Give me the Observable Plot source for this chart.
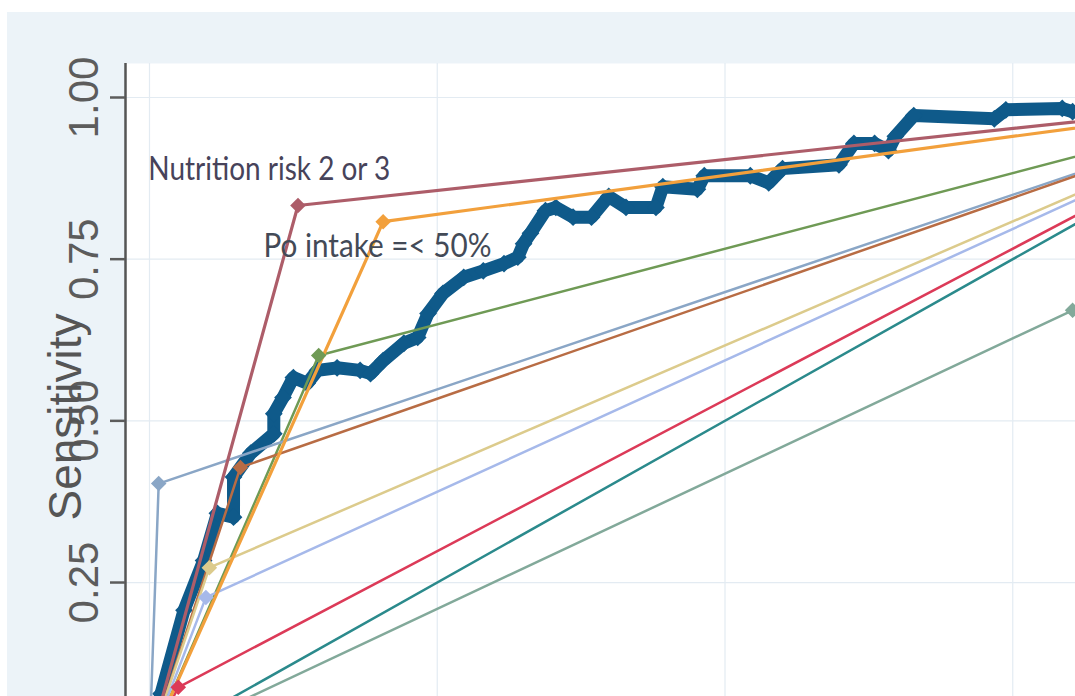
<!DOCTYPE html>
<html>
<head>
<meta charset="utf-8">
<script src="https://cdn.jsdelivr.net/npm/d3@7"></script>
<script src="https://cdn.jsdelivr.net/npm/@observablehq/plot@0.6"></script>
<style>
  html, body { margin: 0; padding: 0; background: #ffffff; overflow: hidden; }
</style>
</head>
<body>
<div id="chart"></div>
<script>
// ---- Data ----
// Binary tests: operating point (1 - specificity, sensitivity)
const testNames = ["Nutrition risk 2 or 3", "Po intake =< 50%", "Test 3", "Test 4", "Test 5", "Test 6", "Test 7", "Test 8", "Test 9", "Test 10"];
const testFPR  = [0.129, 0.203, 0.147, 0.008, 0.079, 0.052, 0.049, 0.025, 0.040, 0.802];
const testSens = [0.833, 0.808, 0.601, 0.403, 0.428, 0.273, 0.227, 0.088, 0.040, 0.671];

// Continuous score: empirical ROC curve
const rocFPR  = [0, 0.010, 0.030, 0.047, 0.059, 0.073, 0.073, 0.088, 0.108, 0.108, 0.116, 0.125, 0.137, 0.146, 0.163, 0.183, 0.192, 0.203, 0.221, 0.233, 0.242, 0.255, 0.273, 0.290, 0.308, 0.320, 0.325, 0.331, 0.344, 0.353, 0.368, 0.384, 0.399, 0.414, 0.440, 0.446, 0.476, 0.482, 0.522, 0.538, 0.550, 0.599, 0.612, 0.630, 0.642, 0.648, 0.664, 0.734, 0.744, 0.793, 0.802, 0.850, 1];
const rocSens = [0, 0.078, 0.207, 0.284, 0.357, 0.351, 0.413, 0.450, 0.480, 0.511, 0.536, 0.567, 0.558, 0.578, 0.582, 0.578, 0.573, 0.593, 0.620, 0.629, 0.666, 0.697, 0.722, 0.732, 0.743, 0.753, 0.774, 0.790, 0.825, 0.830, 0.815, 0.815, 0.847, 0.830, 0.830, 0.862, 0.858, 0.879, 0.879, 0.868, 0.890, 0.896, 0.929, 0.929, 0.918, 0.940, 0.972, 0.967, 0.981, 0.983, 0.978, 0.985, 1];

// Axis ticks (the 0 tick lies below the visible crop)
const yTicks = [0.25, 0.5, 0.75, 1];
const xTicks = [0, 0.25, 0.5, 0.75, 1];

// Annotations (data coordinates)
const annoLabels = ["Nutrition risk 2 or 3", "Po intake =< 50%"];
const annoX = [-0.001, 0.099];
const annoY = [0.888, 0.769];

// ---- Styles ----
const testColors = ["#ad5d69", "#f2a03c", "#6f9a55", "#8aa6c6", "#b86c44", "#dccb8c", "#a6b9ea", "#dc3a58", "#2b8a8c", "#82a99a"];
const rocColor = "#0f5a8a";
const annoColors = ["#47435a", "#434a57"];
const annoWidths = [242, 228];
const xDomainMin = -0.02085;

// ---- Tables ----
const tests = testNames.map((name, i) => ({name, fpr: testFPR[i], sens: testSens[i]}));
const testLines = tests.flatMap(t => [
  {name: t.name, fpr: 0, sens: 0},
  {name: t.name, fpr: t.fpr, sens: t.sens},
  {name: t.name, fpr: 1, sens: 1}
]);
const roc = rocFPR.map((x, i) => ({fpr: x, sens: rocSens[i]}));
const annos = annoLabels.map((label, i) => ({label, x: annoX[i], y: annoY[i], color: annoColors[i]}));
const thick = new Set(testNames.slice(0, 2));

const chart = Plot.plot({
  width: 1075,
  height: 696,
  marginLeft: 125,
  marginTop: 63,
  marginRight: 0,
  marginBottom: 0,
  style: "background:#ecf3f8; box-shadow: inset 7px 12px 0 0 #ffffff; overflow:hidden; font-family:'Liberation Sans', Arial, sans-serif;",
  x: {domain: [xDomainMin, 1], range: [125, 1300], axis: null},
  y: {domain: [0, 1], range: [743.7, 97], axis: null},
  color: {type: "ordinal", domain: testNames, range: testColors},
  marks: [
    Plot.frame({fill: "#ffffff", stroke: null}),
    Plot.gridY(yTicks, {stroke: "#e3ebf2", strokeOpacity: 1, strokeWidth: 1.2}),
    Plot.gridX(xTicks, {stroke: "#e3ebf2", strokeOpacity: 1, strokeWidth: 1.2}),
    Plot.ruleX([xDomainMin], {stroke: "#555555", strokeWidth: 2.5}),
    Plot.axisY(yTicks, {
      tickFormat: d => d.toFixed(2),
      tickRotate: -90,
      tickSize: 15,
      tickPadding: 13,
      fontSize: 42,
      color: "#5c5c5c",
      strokeWidth: 2.5,
      label: null
    }),
    // empirical ROC curve
    Plot.line(roc, {x: "fpr", y: "sens", stroke: rocColor, strokeWidth: 13, strokeLinejoin: "round", clip: true}),
    Plot.dot(roc, {x: "fpr", y: "sens", symbol: "diamond2", r: 8, fill: rocColor, stroke: null, clip: true}),
    // binary tests
    Plot.line(testLines.filter(d => !thick.has(d.name)), {x: "fpr", y: "sens", z: "name", stroke: "name", strokeWidth: 2.5, clip: true}),
    Plot.line(testLines.filter(d => thick.has(d.name)), {x: "fpr", y: "sens", z: "name", stroke: "name", strokeWidth: 3.2, clip: true}),
    Plot.dot(tests, {x: "fpr", y: "sens", fill: "name", symbol: "diamond2", r: 7, stroke: null, clip: true}),
    // annotations
    Plot.text(annos, {x: "x", y: "y", text: "label", fill: "color", textAnchor: "start", fontSize: 33, fontFamily: "Lato"}),
    // y-axis title
    Plot.text(["Sensitivity"], {frameAnchor: "left", rotate: -90, textAnchor: "middle", lineAnchor: "bottom", dx: -45, dy: 37, fontSize: 46, fill: "#555555"})
  ]
});

// condense annotation text to the reference widths
chart.querySelectorAll("text").forEach(t => {
  const i = annoLabels.indexOf(t.textContent);
  if (i >= 0) {
    t.setAttribute("textLength", annoWidths[i]);
    t.setAttribute("lengthAdjust", "spacingAndGlyphs");
  }
});

document.getElementById("chart").appendChild(chart);
</script>
</body>
</html>
